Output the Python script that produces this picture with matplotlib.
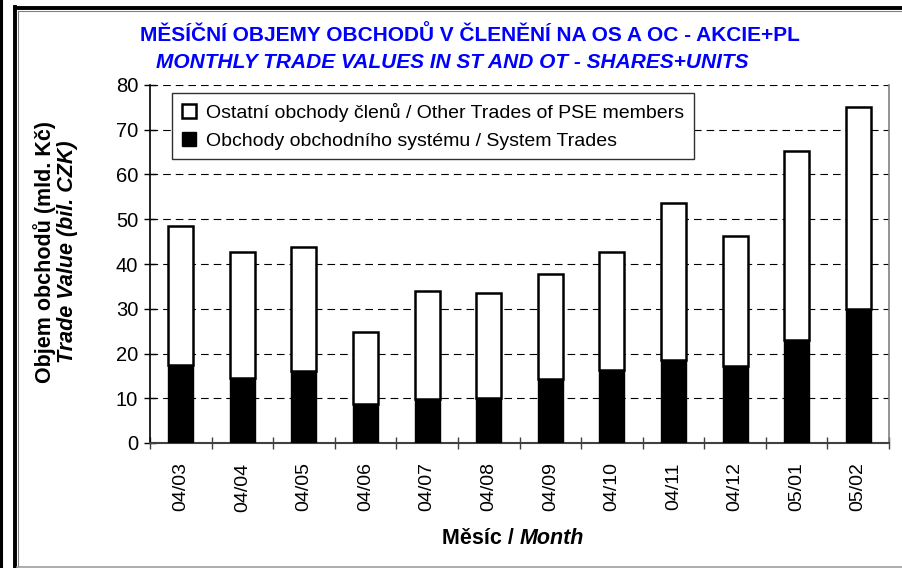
import matplotlib
matplotlib.use("Agg")
import matplotlib.pyplot as plt
from matplotlib.patches import Patch
from matplotlib.lines import Line2D
import numpy as np

months = ["04/03", "04/04", "04/05", "04/06", "04/07", "04/08",
          "04/09", "04/10", "04/11", "04/12", "05/01", "05/02"]
system_trades = [17.4, 14.6, 16.0, 8.8, 9.8, 10.1, 14.3, 16.4, 18.5, 17.3, 23.0, 30.0]
total_trades = [48.4, 42.6, 43.7, 24.8, 34.0, 33.5, 37.7, 42.6, 53.7, 46.2, 65.2, 75.0]
other_trades = [t - s for t, s in zip(total_trades, system_trades)]
yticks = [0, 10, 20, 30, 40, 50, 60, 70, 80]

title_cz = "MĚSÍČNÍ OBJEMY OBCHODŮ V ČLENĚNÍ NA OS A OC - AKCIE+PL"
title_en = "MONTHLY TRADE VALUES IN ST AND OT - SHARES+UNITS"
legend_other = "Ostatní obchody členů / Other Trades of PSE members"
legend_system = "Obchody obchodního systému / System Trades"

plt.rcParams['font.family'] = ['Liberation Sans', 'DejaVu Sans']
plt.rcParams['lines.scale_dashes'] = False

W, H = 902, 568
fig = plt.figure(figsize=(W / 100, H / 100), dpi=100)
fig.patch.set_facecolor("white")

ax = fig.add_axes([150 / W, 1 - 443 / H, (889 - 150) / W, (443 - 85) / H])
x = np.arange(len(months))
bw = 0.405
ax.bar(x, system_trades, width=bw, color="black", edgecolor="black", linewidth=1.0, zorder=3)
ax.bar(x, other_trades, bottom=system_trades, width=bw, color="white",
       edgecolor="black", linewidth=1.8, zorder=3)

ax.set_xlim(-0.5, len(months) - 0.5)
ax.set_ylim(0, 80)
ax.set_yticks(yticks)
ax.set_yticklabels([str(v) for v in yticks], fontsize=14.5)
ax.set_xticks(x)
ax.set_xticklabels(months, rotation=90, fontsize=14)
ax.set_xticks(np.arange(-0.5, len(months)), minor=True)
ax.tick_params(axis="x", which="major", length=0, pad=14)
ax.tick_params(axis="x", which="minor", direction="inout", length=9, width=1, color="#404040")
ax.tick_params(axis="y", which="major", direction="inout", length=9, width=1, pad=4)

for v in yticks[1:]:
    ax.axhline(v, color="black", linewidth=0.8, dashes=(5.5, 3.6), zorder=1)

ax.spines["top"].set_visible(False)
ax.spines["right"].set_color("#808080")
ax.spines["right"].set_linewidth(1.2)
ax.spines["left"].set_color("black")
ax.spines["left"].set_linewidth(1.2)
ax.spines["bottom"].set_color("#404040")
ax.spines["bottom"].set_linewidth(1.5)

handles = [Patch(facecolor="white", edgecolor="black", linewidth=1.8),
           Patch(facecolor="black", edgecolor="black")]
leg = ax.legend(handles, [legend_other, legend_system], loc="upper left",
                bbox_to_anchor=(0.030, 0.977), borderaxespad=0, fontsize=14,
                fancybox=False, framealpha=1, edgecolor="#303030",
                handlelength=0.75, handleheight=0.75, handletextpad=0.5,
                labelspacing=0.5, borderpad=0.5)
leg.get_frame().set_linewidth(1.0)
leg.set_zorder(5)

# titles
fig.text(470 / W, 1 - 35 / H, title_cz, ha="center", va="center", color="#0000FF",
         fontsize=15, fontweight="bold", family=["Liberation Sans Narrow", "Liberation Sans", "DejaVu Sans"])
fig.text(452 / W, 1 - 62 / H, title_en, ha="center", va="center", color="#0000FF",
         fontsize=15, fontweight="bold", style="italic",
         family=["Liberation Sans Narrow", "Liberation Sans", "DejaVu Sans"])

# y label (two lines)
fig.text(45 / W, 1 - 252 / H, "Objem obchodů (mld. Kč)", rotation=90, ha="center", va="center",
         fontsize=15.5, fontweight="bold")
fig.text(68 / W, 1 - 252 / H, "Trade Value (bil. CZK)", rotation=90, ha="center", va="center",
         fontsize=15.5, fontweight="bold", style="italic")

# x label (mixed style)
fig.text(520 / W, 1 - 539 / H, "Měsíc / ", ha="right", va="center",
         fontsize=15.5, fontweight="bold")
fig.text(520 / W, 1 - 539 / H, "Month", ha="left", va="center",
         fontsize=15.5, fontweight="bold", style="italic")

# outer frame lines
fig.add_artist(Line2D([1 / W, 1 / W], [0, 1], color="black", linewidth=2.2, transform=fig.transFigure))
fig.add_artist(Line2D([15 / W, 15 / W], [0, 1 - 7 / H], color="black", linewidth=2.8,
                      transform=fig.transFigure, solid_capstyle="projecting"))
fig.add_artist(Line2D([15 / W, 1], [1 - 8 / H, 1 - 8 / H], color="black", linewidth=2.8,
                      transform=fig.transFigure, solid_capstyle="projecting"))
fig.add_artist(Line2D([17.5 / W, 1], [1 - 10.5 / H, 1 - 10.5 / H], color="#808080", linewidth=0.8,
                      transform=fig.transFigure))
fig.add_artist(Line2D([17.5 / W, 17.5 / W], [0, 1 - 10.5 / H], color="#808080", linewidth=0.8,
                      transform=fig.transFigure))
fig.add_artist(Line2D([17 / W, 1], [1.5 / H, 1.5 / H], color="#A0A0A0", linewidth=1.2,
                      transform=fig.transFigure))

fig.savefig("out.png", dpi=100, facecolor="white")
